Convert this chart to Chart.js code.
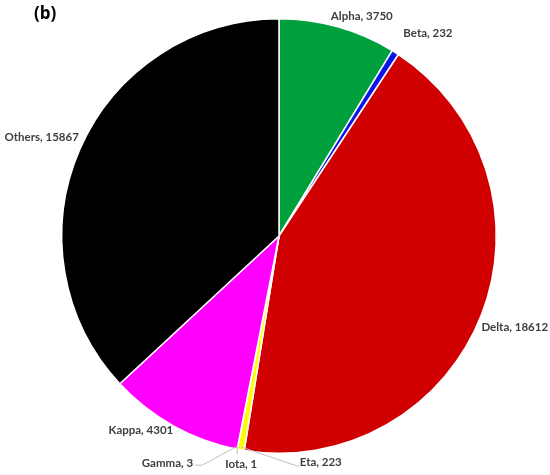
<!DOCTYPE html>
<html>
<head>
<meta charset="utf-8">
<script src="https://cdn.jsdelivr.net/npm/chart.js@4.4.0/dist/chart.umd.min.js"></script>
<style>
  html, body { margin: 0; padding: 0; background: #fff; }
  #wrap { width: 550px; height: 475px; position: relative; }
</style>
</head>
<body>
<div id="wrap"><canvas id="grafico"></canvas></div>
<script>
const variantes = ['Alpha', 'Beta', 'Delta', 'Eta', 'Iota', 'Gamma', 'Kappa', 'Others'];
const contagens = [3750, 232, 18612, 223, 1, 3, 4301, 15867];
const cores = ['#00a03c', '#0a14e6', '#d00000', '#ffff00', '#ffff00', '#ffff00', '#ff00ff', '#000000'];

// onde cada rótulo fica, relativo ao ponto da borda no meio da fatia
const posRotulos = [
  { dx: 24, dy: -11, align: 'center' },
  { dx: 8, dy: -19, align: 'left' },
  { dx: 0, dy: 12, align: 'left' },
  { dx: 59, dy: 12, align: 'left', linha: [[0, -3], [56, 16], [59, 16]] },
  { dx: 4, dy: 15, align: 'center', linha: [[0, -3], [0, 5]] },
  { dx: -44, dy: 14, align: 'right', linha: [[0, -3], [-35, 16], [-42, 16]] },
  { dx: 0, dy: 5, align: 'right' },
  { dx: -1, dy: -12, align: 'right' }
];

const rotulosPlugin = {
  id: 'rotulos',
  afterDatasetsDraw(chart) {
    const ctx = chart.ctx;
    const meta = chart.getDatasetMeta(0);
    ctx.save();
    ctx.font = 'bold 11.5px Lato, "DejaVu Sans", sans-serif';
    ctx.fillStyle = '#404040';
    ctx.textBaseline = 'middle';
    meta.data.forEach((arc, i) => {
      const mid = (arc.startAngle + arc.endAngle) / 2;
      const r = arc.outerRadius;
      const ex = arc.x + Math.cos(mid) * r;
      const ey = arc.y + Math.sin(mid) * r;
      const p = posRotulos[i];
      if (p.linha) {
        ctx.strokeStyle = '#bfbfbf';
        ctx.lineWidth = 1;
        ctx.beginPath();
        p.linha.forEach((pt, k) => {
          const px = ex + pt[0], py = ey + pt[1];
          if (k === 0) ctx.moveTo(px, py); else ctx.lineTo(px, py);
        });
        ctx.stroke();
      }
      ctx.textAlign = p.align;
      ctx.fillText(variantes[i] + ', ' + contagens[i], ex + p.dx, ey + p.dy);
    });
    ctx.font = 'bold 17px "Open Sans", "DejaVu Sans", sans-serif';
    ctx.fillStyle = '#000';
    ctx.textAlign = 'left';
    ctx.fillText('(b)', 34, 14);
    ctx.restore();
  }
};

new Chart(document.getElementById('grafico').getContext('2d'), {
  type: 'pie',
  data: {
    labels: variantes,
    datasets: [{
      data: contagens,
      backgroundColor: cores,
      borderColor: '#ffffff',
      borderWidth: 1.5
    }]
  },
  options: {
    responsive: true,
    maintainAspectRatio: false,
    animation: false,
    layout: { padding: { top: 18, bottom: 21, left: 8, right: 0 } },
    plugins: {
      legend: { display: false },
      tooltip: { enabled: false }
    }
  },
  plugins: [rotulosPlugin]
});
</script>
</body>
</html>
